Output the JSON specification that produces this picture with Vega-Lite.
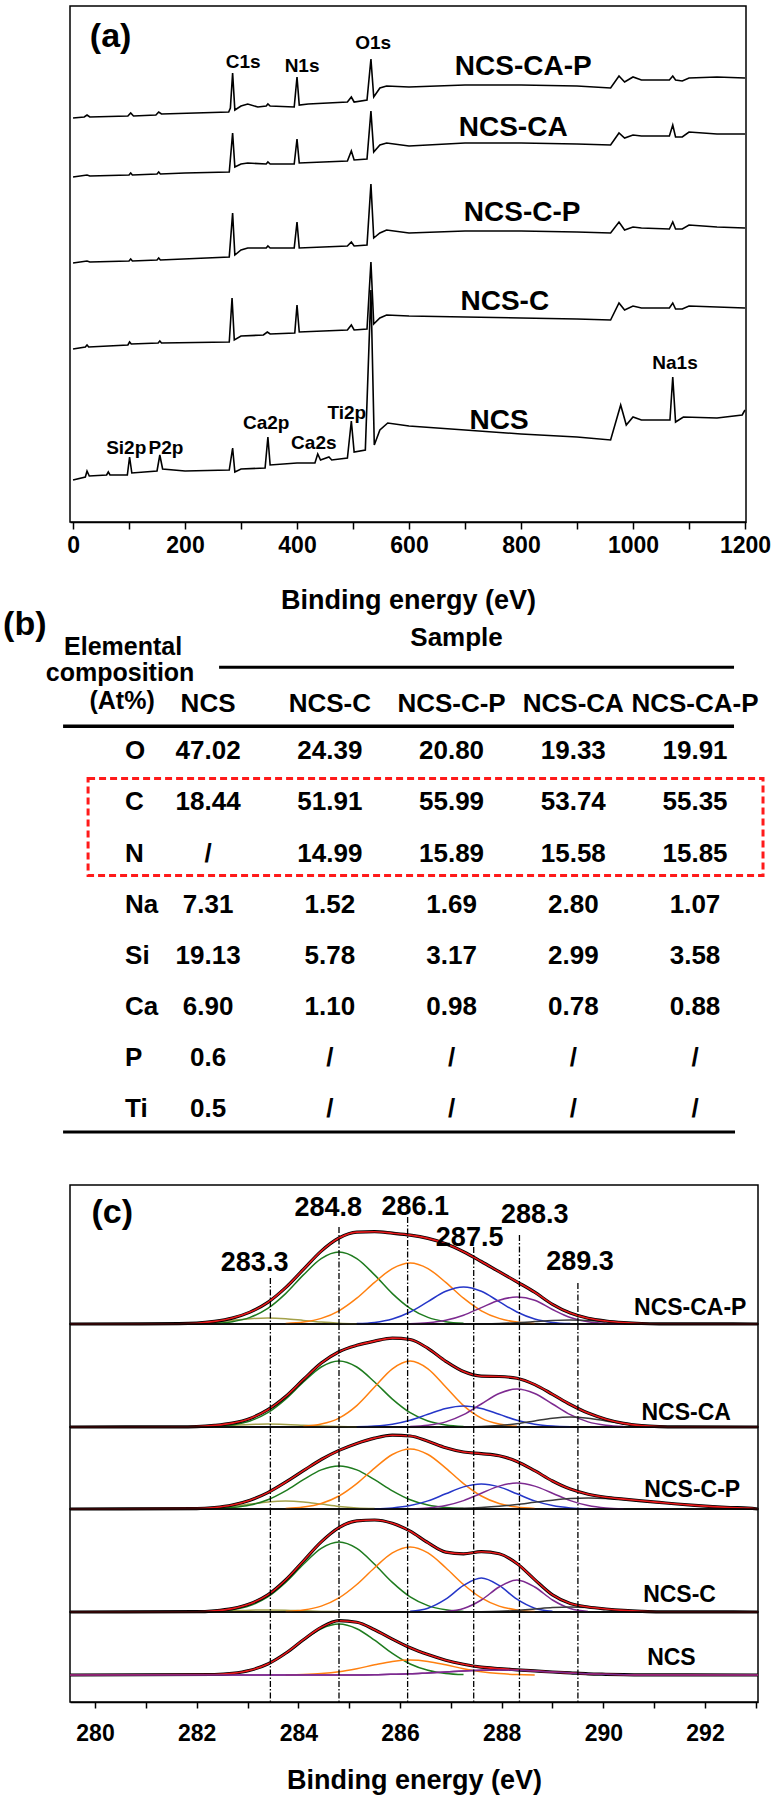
{
"$schema": "https://vega.github.io/schema/vega-lite/v6.json",
"background": "white",
"padding": {"left": 3, "top": 5, "right": 0, "bottom": 2},
"bounds": "flush",
"spacing": 76,
"datasets": {
"survey": [
{"s":"CAP","e":0,"v":404},{"s":"CAP","e":20,"v":405},{"s":"CAP","e":25,"v":407},{"s":"CAP","e":30,"v":405},{"s":"CAP","e":98,"v":406},{"s":"CAP","e":103,"v":409},{"s":"CAP","e":108,"v":406},{"s":"CAP","e":148,"v":407},{"s":"CAP","e":153,"v":410},{"s":"CAP","e":158,"v":408},{"s":"CAP","e":278,"v":410},{"s":"CAP","e":281,"v":414},{"s":"CAP","e":285,"v":449},{"s":"CAP","e":289,"v":412},{"s":"CAP","e":300,"v":416},{"s":"CAP","e":312,"v":418},{"s":"CAP","e":330,"v":415},{"s":"CAP","e":345,"v":416},{"s":"CAP","e":348,"v":418},{"s":"CAP","e":352,"v":416},{"s":"CAP","e":395,"v":415},{"s":"CAP","e":400,"v":445},{"s":"CAP","e":404,"v":417},{"s":"CAP","e":420,"v":418},{"s":"CAP","e":490,"v":420},{"s":"CAP","e":497,"v":425},{"s":"CAP","e":502,"v":420},{"s":"CAP","e":525,"v":422},{"s":"CAP","e":532,"v":463},{"s":"CAP","e":537,"v":425},{"s":"CAP","e":548,"v":434},{"s":"CAP","e":560,"v":436},{"s":"CAP","e":600,"v":435},{"s":"CAP","e":700,"v":437},{"s":"CAP","e":800,"v":437},{"s":"CAP","e":900,"v":436},{"s":"CAP","e":960,"v":434},{"s":"CAP","e":975,"v":446},{"s":"CAP","e":985,"v":440},{"s":"CAP","e":1000,"v":445},{"s":"CAP","e":1015,"v":442},{"s":"CAP","e":1065,"v":442},{"s":"CAP","e":1071,"v":446},{"s":"CAP","e":1076,"v":442},{"s":"CAP","e":1088,"v":441},{"s":"CAP","e":1100,"v":444},{"s":"CAP","e":1150,"v":445},{"s":"CAP","e":1200,"v":444},
{"s":"CA","e":0,"v":345},{"s":"CA","e":25,"v":347},{"s":"CA","e":30,"v":346},{"s":"CA","e":100,"v":347},{"s":"CA","e":103,"v":349},{"s":"CA","e":106,"v":347},{"s":"CA","e":150,"v":348},{"s":"CA","e":153,"v":350},{"s":"CA","e":156,"v":348},{"s":"CA","e":200,"v":349},{"s":"CA","e":279,"v":350},{"s":"CA","e":285,"v":389},{"s":"CA","e":289,"v":355},{"s":"CA","e":300,"v":358},{"s":"CA","e":312,"v":359},{"s":"CA","e":345,"v":358},{"s":"CA","e":348,"v":360},{"s":"CA","e":352,"v":358},{"s":"CA","e":395,"v":358},{"s":"CA","e":400,"v":383},{"s":"CA","e":404,"v":359},{"s":"CA","e":490,"v":361},{"s":"CA","e":497,"v":371},{"s":"CA","e":502,"v":362},{"s":"CA","e":525,"v":363},{"s":"CA","e":532,"v":411},{"s":"CA","e":537,"v":370},{"s":"CA","e":548,"v":377},{"s":"CA","e":560,"v":379},{"s":"CA","e":600,"v":376},{"s":"CA","e":700,"v":379},{"s":"CA","e":800,"v":379},{"s":"CA","e":900,"v":378},{"s":"CA","e":960,"v":377},{"s":"CA","e":975,"v":389},{"s":"CA","e":985,"v":384},{"s":"CA","e":1000,"v":387},{"s":"CA","e":1015,"v":386},{"s":"CA","e":1065,"v":386},{"s":"CA","e":1071,"v":397},{"s":"CA","e":1076,"v":385},{"s":"CA","e":1088,"v":385},{"s":"CA","e":1100,"v":390},{"s":"CA","e":1150,"v":388},{"s":"CA","e":1200,"v":388},
{"s":"CP","e":0,"v":259},{"s":"CP","e":25,"v":261},{"s":"CP","e":30,"v":260},{"s":"CP","e":100,"v":261},{"s":"CP","e":103,"v":263},{"s":"CP","e":106,"v":261},{"s":"CP","e":150,"v":262},{"s":"CP","e":153,"v":264},{"s":"CP","e":156,"v":262},{"s":"CP","e":279,"v":265},{"s":"CP","e":285,"v":309},{"s":"CP","e":289,"v":267},{"s":"CP","e":300,"v":272},{"s":"CP","e":312,"v":274},{"s":"CP","e":345,"v":274},{"s":"CP","e":348,"v":276},{"s":"CP","e":352,"v":274},{"s":"CP","e":395,"v":274},{"s":"CP","e":400,"v":300},{"s":"CP","e":404,"v":274},{"s":"CP","e":490,"v":276},{"s":"CP","e":497,"v":280},{"s":"CP","e":502,"v":276},{"s":"CP","e":525,"v":277},{"s":"CP","e":532,"v":338},{"s":"CP","e":537,"v":284},{"s":"CP","e":548,"v":289},{"s":"CP","e":560,"v":292},{"s":"CP","e":600,"v":289},{"s":"CP","e":700,"v":291},{"s":"CP","e":800,"v":291},{"s":"CP","e":900,"v":290},{"s":"CP","e":960,"v":289},{"s":"CP","e":975,"v":300},{"s":"CP","e":985,"v":292},{"s":"CP","e":1000,"v":295},{"s":"CP","e":1015,"v":294},{"s":"CP","e":1065,"v":293},{"s":"CP","e":1071,"v":300},{"s":"CP","e":1076,"v":293},{"s":"CP","e":1088,"v":293},{"s":"CP","e":1100,"v":297},{"s":"CP","e":1150,"v":295},{"s":"CP","e":1200,"v":294},
{"s":"C","e":0,"v":173},{"s":"C","e":22,"v":175},{"s":"C","e":25,"v":177},{"s":"C","e":28,"v":175},{"s":"C","e":98,"v":177},{"s":"C","e":101,"v":180},{"s":"C","e":104,"v":178},{"s":"C","e":152,"v":179},{"s":"C","e":155,"v":181},{"s":"C","e":158,"v":179},{"s":"C","e":279,"v":180},{"s":"C","e":284,"v":224},{"s":"C","e":288,"v":182},{"s":"C","e":300,"v":186},{"s":"C","e":340,"v":187},{"s":"C","e":347,"v":190},{"s":"C","e":352,"v":188},{"s":"C","e":396,"v":189},{"s":"C","e":400,"v":217},{"s":"C","e":404,"v":190},{"s":"C","e":490,"v":192},{"s":"C","e":497,"v":197},{"s":"C","e":502,"v":192},{"s":"C","e":525,"v":193},{"s":"C","e":532,"v":260},{"s":"C","e":537,"v":198},{"s":"C","e":548,"v":204},{"s":"C","e":560,"v":207},{"s":"C","e":600,"v":206},{"s":"C","e":700,"v":205},{"s":"C","e":800,"v":204},{"s":"C","e":900,"v":203},{"s":"C","e":960,"v":202},{"s":"C","e":975,"v":219},{"s":"C","e":985,"v":212},{"s":"C","e":1000,"v":216},{"s":"C","e":1015,"v":214},{"s":"C","e":1065,"v":214},{"s":"C","e":1071,"v":219},{"s":"C","e":1076,"v":213},{"s":"C","e":1088,"v":213},{"s":"C","e":1100,"v":216},{"s":"C","e":1150,"v":215},{"s":"C","e":1200,"v":214},
{"s":"NCS","e":0,"v":42},{"s":"NCS","e":22,"v":45},{"s":"NCS","e":25,"v":51},{"s":"NCS","e":29,"v":46},{"s":"NCS","e":60,"v":47},{"s":"NCS","e":63,"v":50},{"s":"NCS","e":66,"v":47},{"s":"NCS","e":97,"v":47},{"s":"NCS","e":101,"v":65},{"s":"NCS","e":105,"v":49},{"s":"NCS","e":150,"v":51},{"s":"NCS","e":155,"v":67},{"s":"NCS","e":160,"v":53},{"s":"NCS","e":200,"v":51},{"s":"NCS","e":279,"v":52},{"s":"NCS","e":285,"v":74},{"s":"NCS","e":289,"v":50},{"s":"NCS","e":300,"v":53},{"s":"NCS","e":343,"v":54},{"s":"NCS","e":348,"v":85},{"s":"NCS","e":352,"v":57},{"s":"NCS","e":400,"v":59},{"s":"NCS","e":432,"v":59},{"s":"NCS","e":437,"v":68},{"s":"NCS","e":442,"v":62},{"s":"NCS","e":457,"v":65},{"s":"NCS","e":462,"v":62},{"s":"NCS","e":490,"v":64},{"s":"NCS","e":497,"v":101},{"s":"NCS","e":502,"v":70},{"s":"NCS","e":522,"v":72},{"s":"NCS","e":532,"v":232},{"s":"NCS","e":538,"v":77},{"s":"NCS","e":548,"v":92},{"s":"NCS","e":562,"v":99},{"s":"NCS","e":600,"v":96},{"s":"NCS","e":700,"v":92},{"s":"NCS","e":800,"v":88},{"s":"NCS","e":900,"v":85},{"s":"NCS","e":960,"v":82},{"s":"NCS","e":978,"v":117},{"s":"NCS","e":988,"v":97},{"s":"NCS","e":1000,"v":105},{"s":"NCS","e":1015,"v":102},{"s":"NCS","e":1066,"v":102},{"s":"NCS","e":1071,"v":145},{"s":"NCS","e":1076,"v":100},{"s":"NCS","e":1090,"v":105},{"s":"NCS","e":1150,"v":104},{"s":"NCS","e":1195,"v":107},{"s":"NCS","e":1200,"v":112}
],
"alab": [
{"t":"(a)","k":"a","e":30,"v":485},
{"t":"C1s","k":"p","e":304,"v":460},{"t":"N1s","k":"p","e":409,"v":456},{"t":"O1s","k":"p","e":536,"v":479},
{"t":"Na1s","k":"p","e":1075,"v":159},{"t":"Si2p","k":"p","e":95,"v":74},{"t":"P2p","k":"p","e":166,"v":74},{"t":"Ca2p","k":"p","e":345,"v":99},{"t":"Ca2s","k":"p","e":430,"v":79},{"t":"Ti2p","k":"p","e":489,"v":109},
{"t":"NCS-CA-P","k":"s","e":804,"v":455},{"t":"NCS-CA","k":"s","e":786,"v":394},{"t":"NCS-C-P","k":"s","e":802,"v":309},{"t":"NCS-C","k":"s","e":771,"v":220},{"t":"NCS","k":"s","e":761,"v":101}
],
"tbl": [
{"r":"hdr","c":"NCS","t":"NCS"},{"r":"hdr","c":"NCS-C","t":"NCS-C"},{"r":"hdr","c":"NCS-C-P","t":"NCS-C-P"},{"r":"hdr","c":"NCS-CA","t":"NCS-CA"},{"r":"hdr","c":"NCS-CA-P","t":"NCS-CA-P"},
{"r":"O","c":"NCS","t":"47.02"},{"r":"O","c":"NCS-C","t":"24.39"},{"r":"O","c":"NCS-C-P","t":"20.80"},{"r":"O","c":"NCS-CA","t":"19.33"},{"r":"O","c":"NCS-CA-P","t":"19.91"},
{"r":"C","c":"NCS","t":"18.44"},{"r":"C","c":"NCS-C","t":"51.91"},{"r":"C","c":"NCS-C-P","t":"55.99"},{"r":"C","c":"NCS-CA","t":"53.74"},{"r":"C","c":"NCS-CA-P","t":"55.35"},
{"r":"N","c":"NCS","t":"/"},{"r":"N","c":"NCS-C","t":"14.99"},{"r":"N","c":"NCS-C-P","t":"15.89"},{"r":"N","c":"NCS-CA","t":"15.58"},{"r":"N","c":"NCS-CA-P","t":"15.85"},
{"r":"Na","c":"NCS","t":"7.31"},{"r":"Na","c":"NCS-C","t":"1.52"},{"r":"Na","c":"NCS-C-P","t":"1.69"},{"r":"Na","c":"NCS-CA","t":"2.80"},{"r":"Na","c":"NCS-CA-P","t":"1.07"},
{"r":"Si","c":"NCS","t":"19.13"},{"r":"Si","c":"NCS-C","t":"5.78"},{"r":"Si","c":"NCS-C-P","t":"3.17"},{"r":"Si","c":"NCS-CA","t":"2.99"},{"r":"Si","c":"NCS-CA-P","t":"3.58"},
{"r":"Ca","c":"NCS","t":"6.90"},{"r":"Ca","c":"NCS-C","t":"1.10"},{"r":"Ca","c":"NCS-C-P","t":"0.98"},{"r":"Ca","c":"NCS-CA","t":"0.78"},{"r":"Ca","c":"NCS-CA-P","t":"0.88"},
{"r":"P","c":"NCS","t":"0.6"},{"r":"P","c":"NCS-C","t":"/"},{"r":"P","c":"NCS-C-P","t":"/"},{"r":"P","c":"NCS-CA","t":"/"},{"r":"P","c":"NCS-CA-P","t":"/"},
{"r":"Ti","c":"NCS","t":"0.5"},{"r":"Ti","c":"NCS-C","t":"/"},{"r":"Ti","c":"NCS-C-P","t":"/"},{"r":"Ti","c":"NCS-CA","t":"/"},{"r":"Ti","c":"NCS-CA-P","t":"/"}
],
"vl": [
{"e":283.45,"top":46},{"e":284.8,"top":97},{"e":286.15,"top":107},{"e":287.45,"top":77},{"e":288.35,"top":89},{"e":289.5,"top":41}
],
"pl": [
{"t":"283.3","e":283.14,"v":61},{"t":"284.8","e":284.59,"v":116},{"t":"286.1","e":286.3,"v":117},{"t":"287.5","e":287.37,"v":86},{"t":"288.3","e":288.65,"v":109},{"t":"289.3","e":289.54,"v":62}
],
"comp": [
{"s":"CAP","c":"C0","e":279.51,"v":0},{"s":"CAP","c":"C0","e":293.04,"v":0},
{"s":"CAP","c":"C1","e":281.65,"v":0.3},{"s":"CAP","c":"C1","e":282.0,"v":0.8},{"s":"CAP","c":"C1","e":282.35,"v":1.9},{"s":"CAP","c":"C1","e":282.7,"v":3.6},{"s":"CAP","c":"C1","e":283.05,"v":5.3},{"s":"CAP","c":"C1","e":283.4,"v":6},{"s":"CAP","c":"C1","e":283.75,"v":5.3},{"s":"CAP","c":"C1","e":284.1,"v":3.6},{"s":"CAP","c":"C1","e":284.45,"v":1.9},{"s":"CAP","c":"C1","e":284.8,"v":0.8},{"s":"CAP","c":"C1","e":285.15,"v":0.3},
{"s":"CAP","c":"C2","e":282.35,"v":0.7},{"s":"CAP","c":"C2","e":282.7,"v":2.3},{"s":"CAP","c":"C2","e":283.05,"v":6.6},{"s":"CAP","c":"C2","e":283.4,"v":15.6},{"s":"CAP","c":"C2","e":283.75,"v":30.4},{"s":"CAP","c":"C2","e":284.1,"v":49.1},{"s":"CAP","c":"C2","e":284.45,"v":65.4},{"s":"CAP","c":"C2","e":284.8,"v":72},{"s":"CAP","c":"C2","e":285.15,"v":65.4},{"s":"CAP","c":"C2","e":285.5,"v":49.1},{"s":"CAP","c":"C2","e":285.85,"v":30.4},{"s":"CAP","c":"C2","e":286.2,"v":15.6},{"s":"CAP","c":"C2","e":286.55,"v":6.6},{"s":"CAP","c":"C2","e":286.9,"v":2.3},{"s":"CAP","c":"C2","e":287.25,"v":0.7},
{"s":"CAP","c":"C3","e":283.75,"v":0.6},{"s":"CAP","c":"C3","e":284.1,"v":1.9},{"s":"CAP","c":"C3","e":284.45,"v":5.6},{"s":"CAP","c":"C3","e":284.8,"v":13.2},{"s":"CAP","c":"C3","e":285.15,"v":25.8},{"s":"CAP","c":"C3","e":285.5,"v":41.6},{"s":"CAP","c":"C3","e":285.85,"v":55.4},{"s":"CAP","c":"C3","e":286.2,"v":61},{"s":"CAP","c":"C3","e":286.55,"v":55.4},{"s":"CAP","c":"C3","e":286.9,"v":41.6},{"s":"CAP","c":"C3","e":287.25,"v":25.8},{"s":"CAP","c":"C3","e":287.6,"v":13.2},{"s":"CAP","c":"C3","e":287.95,"v":5.6},{"s":"CAP","c":"C3","e":288.3,"v":1.9},{"s":"CAP","c":"C3","e":288.65,"v":0.6},
{"s":"CAP","c":"C4","e":285.15,"v":0.4},{"s":"CAP","c":"C4","e":285.5,"v":1.6},{"s":"CAP","c":"C4","e":285.85,"v":5.0},{"s":"CAP","c":"C4","e":286.2,"v":12.0},{"s":"CAP","c":"C4","e":286.55,"v":22.4},{"s":"CAP","c":"C4","e":286.9,"v":32.7},{"s":"CAP","c":"C4","e":287.25,"v":37},{"s":"CAP","c":"C4","e":287.6,"v":32.7},{"s":"CAP","c":"C4","e":287.95,"v":22.4},{"s":"CAP","c":"C4","e":288.3,"v":12.0},{"s":"CAP","c":"C4","e":288.65,"v":5.0},{"s":"CAP","c":"C4","e":289.0,"v":1.6},{"s":"CAP","c":"C4","e":289.35,"v":0.4},
{"s":"CAP","c":"C5","e":286.2,"v":0.3},{"s":"CAP","c":"C5","e":286.55,"v":1.2},{"s":"CAP","c":"C5","e":286.9,"v":3.7},{"s":"CAP","c":"C5","e":287.25,"v":8.8},{"s":"CAP","c":"C5","e":287.6,"v":16.4},{"s":"CAP","c":"C5","e":287.95,"v":23.8},{"s":"CAP","c":"C5","e":288.3,"v":27},{"s":"CAP","c":"C5","e":288.65,"v":23.8},{"s":"CAP","c":"C5","e":289.0,"v":14.5},{"s":"CAP","c":"C5","e":289.35,"v":6.5},{"s":"CAP","c":"C5","e":289.7,"v":2.2},{"s":"CAP","c":"C5","e":290.05,"v":0.6},{"s":"CAP","c":"C5","e":290.4,"v":0.1},
{"s":"CAP","c":"C6","e":287.6,"v":0.2},{"s":"CAP","c":"C6","e":287.95,"v":0.5},{"s":"CAP","c":"C6","e":288.3,"v":1.3},{"s":"CAP","c":"C6","e":288.65,"v":2.4},{"s":"CAP","c":"C6","e":289.0,"v":3.5},{"s":"CAP","c":"C6","e":289.35,"v":4},{"s":"CAP","c":"C6","e":289.7,"v":3.5},{"s":"CAP","c":"C6","e":290.05,"v":2.4},{"s":"CAP","c":"C6","e":290.4,"v":1.3},{"s":"CAP","c":"C6","e":290.75,"v":0.5},{"s":"CAP","c":"C6","e":291.1,"v":0.2},
{"s":"CA","c":"C0","e":279.51,"v":0},{"s":"CA","c":"C0","e":293.04,"v":0},
{"s":"CA","c":"C1","e":281.65,"v":0.1},{"s":"CA","c":"C1","e":282.0,"v":0.4},{"s":"CA","c":"C1","e":282.35,"v":1.0},{"s":"CA","c":"C1","e":282.7,"v":1.8},{"s":"CA","c":"C1","e":283.05,"v":2.6},{"s":"CA","c":"C1","e":283.4,"v":3},{"s":"CA","c":"C1","e":283.75,"v":2.6},{"s":"CA","c":"C1","e":284.1,"v":1.8},{"s":"CA","c":"C1","e":284.45,"v":1.0},{"s":"CA","c":"C1","e":284.8,"v":0.4},{"s":"CA","c":"C1","e":285.15,"v":0.1},
{"s":"CA","c":"C2","e":282.35,"v":0.6},{"s":"CA","c":"C2","e":282.7,"v":2.1},{"s":"CA","c":"C2","e":283.05,"v":6.0},{"s":"CA","c":"C2","e":283.4,"v":14.3},{"s":"CA","c":"C2","e":283.75,"v":27.9},{"s":"CA","c":"C2","e":284.1,"v":45.0},{"s":"CA","c":"C2","e":284.45,"v":60.0},{"s":"CA","c":"C2","e":284.8,"v":66},{"s":"CA","c":"C2","e":285.15,"v":60.0},{"s":"CA","c":"C2","e":285.5,"v":45.0},{"s":"CA","c":"C2","e":285.85,"v":27.9},{"s":"CA","c":"C2","e":286.2,"v":14.3},{"s":"CA","c":"C2","e":286.55,"v":6.0},{"s":"CA","c":"C2","e":286.9,"v":2.1},{"s":"CA","c":"C2","e":287.25,"v":0.6},
{"s":"CA","c":"C3","e":284.1,"v":0.7},{"s":"CA","c":"C3","e":284.45,"v":2.9},{"s":"CA","c":"C3","e":284.8,"v":8.9},{"s":"CA","c":"C3","e":285.15,"v":21.4},{"s":"CA","c":"C3","e":285.5,"v":40.0},{"s":"CA","c":"C3","e":285.85,"v":58.2},{"s":"CA","c":"C3","e":286.2,"v":66},{"s":"CA","c":"C3","e":286.55,"v":58.2},{"s":"CA","c":"C3","e":286.9,"v":40.0},{"s":"CA","c":"C3","e":287.25,"v":21.4},{"s":"CA","c":"C3","e":287.6,"v":8.9},{"s":"CA","c":"C3","e":287.95,"v":2.9},{"s":"CA","c":"C3","e":288.3,"v":0.7},
{"s":"CA","c":"C4","e":285.15,"v":0.2},{"s":"CA","c":"C4","e":285.5,"v":0.9},{"s":"CA","c":"C4","e":285.85,"v":2.8},{"s":"CA","c":"C4","e":286.2,"v":6.8},{"s":"CA","c":"C4","e":286.55,"v":12.7},{"s":"CA","c":"C4","e":286.9,"v":18.5},{"s":"CA","c":"C4","e":287.25,"v":21},{"s":"CA","c":"C4","e":287.6,"v":18.5},{"s":"CA","c":"C4","e":287.95,"v":12.7},{"s":"CA","c":"C4","e":288.3,"v":6.8},{"s":"CA","c":"C4","e":288.65,"v":2.8},{"s":"CA","c":"C4","e":289.0,"v":0.9},{"s":"CA","c":"C4","e":289.35,"v":0.2},
{"s":"CA","c":"C5","e":286.2,"v":0.4},{"s":"CA","c":"C5","e":286.55,"v":1.7},{"s":"CA","c":"C5","e":286.9,"v":5.1},{"s":"CA","c":"C5","e":287.25,"v":12.3},{"s":"CA","c":"C5","e":287.6,"v":23.0},{"s":"CA","c":"C5","e":287.95,"v":33.5},{"s":"CA","c":"C5","e":288.3,"v":38},{"s":"CA","c":"C5","e":288.65,"v":33.5},{"s":"CA","c":"C5","e":289.0,"v":23.0},{"s":"CA","c":"C5","e":289.35,"v":12.3},{"s":"CA","c":"C5","e":289.7,"v":5.1},{"s":"CA","c":"C5","e":290.05,"v":1.7},{"s":"CA","c":"C5","e":290.4,"v":0.4},
{"s":"CA","c":"C6","e":287.25,"v":0.1},{"s":"CA","c":"C6","e":287.6,"v":0.4},{"s":"CA","c":"C6","e":287.95,"v":1.4},{"s":"CA","c":"C6","e":288.3,"v":3.2},{"s":"CA","c":"C6","e":288.65,"v":6.1},{"s":"CA","c":"C6","e":289.0,"v":8.8},{"s":"CA","c":"C6","e":289.35,"v":10},{"s":"CA","c":"C6","e":289.7,"v":8.8},{"s":"CA","c":"C6","e":290.05,"v":6.1},{"s":"CA","c":"C6","e":290.4,"v":3.2},{"s":"CA","c":"C6","e":290.75,"v":1.4},{"s":"CA","c":"C6","e":291.1,"v":0.4},{"s":"CA","c":"C6","e":291.45,"v":0.1},
{"s":"CP","c":"C0","e":279.51,"v":0},{"s":"CP","c":"C0","e":293.04,"v":0},
{"s":"CP","c":"C1","e":282.0,"v":0.4},{"s":"CP","c":"C1","e":282.35,"v":1.1},{"s":"CP","c":"C1","e":282.7,"v":2.6},{"s":"CP","c":"C1","e":283.05,"v":4.9},{"s":"CP","c":"C1","e":283.4,"v":7.1},{"s":"CP","c":"C1","e":283.75,"v":8},{"s":"CP","c":"C1","e":284.1,"v":7.1},{"s":"CP","c":"C1","e":284.45,"v":4.9},{"s":"CP","c":"C1","e":284.8,"v":2.6},{"s":"CP","c":"C1","e":285.15,"v":1.1},{"s":"CP","c":"C1","e":285.5,"v":0.4},
{"s":"CP","c":"C2","e":282.35,"v":0.4},{"s":"CP","c":"C2","e":282.7,"v":1.4},{"s":"CP","c":"C2","e":283.05,"v":3.9},{"s":"CP","c":"C2","e":283.4,"v":9.3},{"s":"CP","c":"C2","e":283.75,"v":18.2},{"s":"CP","c":"C2","e":284.1,"v":29.3},{"s":"CP","c":"C2","e":284.45,"v":39.1},{"s":"CP","c":"C2","e":284.8,"v":43},{"s":"CP","c":"C2","e":285.15,"v":39.1},{"s":"CP","c":"C2","e":285.5,"v":29.3},{"s":"CP","c":"C2","e":285.85,"v":18.2},{"s":"CP","c":"C2","e":286.2,"v":9.3},{"s":"CP","c":"C2","e":286.55,"v":3.9},{"s":"CP","c":"C2","e":286.9,"v":1.4},{"s":"CP","c":"C2","e":287.25,"v":0.4},
{"s":"CP","c":"C3","e":283.75,"v":0.6},{"s":"CP","c":"C3","e":284.1,"v":1.9},{"s":"CP","c":"C3","e":284.45,"v":5.5},{"s":"CP","c":"C3","e":284.8,"v":13.0},{"s":"CP","c":"C3","e":285.15,"v":25.4},{"s":"CP","c":"C3","e":285.5,"v":40.9},{"s":"CP","c":"C3","e":285.85,"v":54.5},{"s":"CP","c":"C3","e":286.2,"v":60},{"s":"CP","c":"C3","e":286.55,"v":54.5},{"s":"CP","c":"C3","e":286.9,"v":40.9},{"s":"CP","c":"C3","e":287.25,"v":25.4},{"s":"CP","c":"C3","e":287.6,"v":13.0},{"s":"CP","c":"C3","e":287.95,"v":5.5},{"s":"CP","c":"C3","e":288.3,"v":1.9},{"s":"CP","c":"C3","e":288.65,"v":0.6},
{"s":"CP","c":"C4","e":285.5,"v":0.3},{"s":"CP","c":"C4","e":285.85,"v":1.1},{"s":"CP","c":"C4","e":286.2,"v":3.4},{"s":"CP","c":"C4","e":286.55,"v":8.1},{"s":"CP","c":"C4","e":286.9,"v":15.2},{"s":"CP","c":"C4","e":287.25,"v":22.1},{"s":"CP","c":"C4","e":287.6,"v":25},{"s":"CP","c":"C4","e":287.95,"v":22.1},{"s":"CP","c":"C4","e":288.3,"v":15.2},{"s":"CP","c":"C4","e":288.65,"v":8.1},{"s":"CP","c":"C4","e":289.0,"v":3.4},{"s":"CP","c":"C4","e":289.35,"v":1.1},{"s":"CP","c":"C4","e":289.7,"v":0.3},
{"s":"CP","c":"C5","e":286.2,"v":0.3},{"s":"CP","c":"C5","e":286.55,"v":1.1},{"s":"CP","c":"C5","e":286.9,"v":3.5},{"s":"CP","c":"C5","e":287.25,"v":8.4},{"s":"CP","c":"C5","e":287.6,"v":15.8},{"s":"CP","c":"C5","e":287.95,"v":22.9},{"s":"CP","c":"C5","e":288.3,"v":26},{"s":"CP","c":"C5","e":288.65,"v":22.9},{"s":"CP","c":"C5","e":289.0,"v":15.8},{"s":"CP","c":"C5","e":289.35,"v":8.4},{"s":"CP","c":"C5","e":289.7,"v":3.5},{"s":"CP","c":"C5","e":290.05,"v":1.1},{"s":"CP","c":"C5","e":290.4,"v":0.3},
{"s":"CP","c":"C6","e":286.55,"v":0.1},{"s":"CP","c":"C6","e":286.9,"v":0.3},{"s":"CP","c":"C6","e":287.25,"v":0.7},{"s":"CP","c":"C6","e":287.6,"v":1.5},{"s":"CP","c":"C6","e":287.95,"v":2.7},{"s":"CP","c":"C6","e":288.3,"v":4.5},{"s":"CP","c":"C6","e":288.65,"v":6.7},{"s":"CP","c":"C6","e":289.0,"v":8.8},{"s":"CP","c":"C6","e":289.35,"v":10.4},{"s":"CP","c":"C6","e":289.7,"v":11},{"s":"CP","c":"C6","e":290.05,"v":10.6},{"s":"CP","c":"C6","e":290.4,"v":9.6},{"s":"CP","c":"C6","e":290.75,"v":8.2},{"s":"CP","c":"C6","e":291.1,"v":6.6},{"s":"CP","c":"C6","e":291.45,"v":5.0},{"s":"CP","c":"C6","e":291.8,"v":3.6},{"s":"CP","c":"C6","e":292.15,"v":2.4},{"s":"CP","c":"C6","e":292.5,"v":1.5},{"s":"CP","c":"C6","e":292.85,"v":0.9},
{"s":"C","c":"C0","e":279.51,"v":0},{"s":"C","c":"C0","e":293.04,"v":0},
{"s":"C","c":"C1","e":282.0,"v":0.3},{"s":"C","c":"C1","e":282.35,"v":0.6},{"s":"C","c":"C1","e":282.7,"v":1.2},{"s":"C","c":"C1","e":283.05,"v":1.8},{"s":"C","c":"C1","e":283.4,"v":2},{"s":"C","c":"C1","e":283.75,"v":1.8},{"s":"C","c":"C1","e":284.1,"v":1.2},{"s":"C","c":"C1","e":284.45,"v":0.6},{"s":"C","c":"C1","e":284.8,"v":0.3},
{"s":"C","c":"C2","e":282.35,"v":0.6},{"s":"C","c":"C2","e":282.7,"v":2.2},{"s":"C","c":"C2","e":283.05,"v":6.4},{"s":"C","c":"C2","e":283.4,"v":15.1},{"s":"C","c":"C2","e":283.75,"v":29.6},{"s":"C","c":"C2","e":284.1,"v":47.7},{"s":"C","c":"C2","e":284.45,"v":63.6},{"s":"C","c":"C2","e":284.8,"v":70},{"s":"C","c":"C2","e":285.15,"v":63.6},{"s":"C","c":"C2","e":285.5,"v":47.7},{"s":"C","c":"C2","e":285.85,"v":29.6},{"s":"C","c":"C2","e":286.2,"v":15.1},{"s":"C","c":"C2","e":286.55,"v":6.4},{"s":"C","c":"C2","e":286.9,"v":2.2},{"s":"C","c":"C2","e":287.25,"v":0.6},
{"s":"C","c":"C3","e":283.75,"v":0.6},{"s":"C","c":"C3","e":284.1,"v":2.1},{"s":"C","c":"C3","e":284.45,"v":5.9},{"s":"C","c":"C3","e":284.8,"v":14.1},{"s":"C","c":"C3","e":285.15,"v":27.5},{"s":"C","c":"C3","e":285.5,"v":44.3},{"s":"C","c":"C3","e":285.85,"v":59.1},{"s":"C","c":"C3","e":286.2,"v":65},{"s":"C","c":"C3","e":286.55,"v":59.1},{"s":"C","c":"C3","e":286.9,"v":44.3},{"s":"C","c":"C3","e":287.25,"v":27.5},{"s":"C","c":"C3","e":287.6,"v":14.1},{"s":"C","c":"C3","e":287.95,"v":5.9},{"s":"C","c":"C3","e":288.3,"v":2.1},{"s":"C","c":"C3","e":288.65,"v":0.6},
{"s":"C","c":"C4","e":286.2,"v":0.7},{"s":"C","c":"C4","e":286.55,"v":3.8},{"s":"C","c":"C4","e":286.9,"v":12.8},{"s":"C","c":"C4","e":287.25,"v":26.6},{"s":"C","c":"C4","e":287.6,"v":34},{"s":"C","c":"C4","e":287.95,"v":26.6},{"s":"C","c":"C4","e":288.3,"v":12.8},{"s":"C","c":"C4","e":288.65,"v":3.8},{"s":"C","c":"C4","e":289.0,"v":0.7},
{"s":"C","c":"C5","e":286.9,"v":0.6},{"s":"C","c":"C5","e":287.25,"v":3.5},{"s":"C","c":"C5","e":287.6,"v":12.0},{"s":"C","c":"C5","e":287.95,"v":25.0},{"s":"C","c":"C5","e":288.3,"v":32},{"s":"C","c":"C5","e":288.65,"v":25.0},{"s":"C","c":"C5","e":289.0,"v":12.0},{"s":"C","c":"C5","e":289.35,"v":3.5},{"s":"C","c":"C5","e":289.7,"v":0.6},
{"s":"C","c":"C6","e":287.6,"v":0.2},{"s":"C","c":"C6","e":287.95,"v":0.7},{"s":"C","c":"C6","e":288.3,"v":1.6},{"s":"C","c":"C6","e":288.65,"v":3.0},{"s":"C","c":"C6","e":289.0,"v":4.4},{"s":"C","c":"C6","e":289.35,"v":5},{"s":"C","c":"C6","e":289.7,"v":4.4},{"s":"C","c":"C6","e":290.05,"v":3.0},{"s":"C","c":"C6","e":290.4,"v":1.6},{"s":"C","c":"C6","e":290.75,"v":0.7},{"s":"C","c":"C6","e":291.1,"v":0.2},
{"s":"NCS","c":"C0","e":279.51,"v":0},{"s":"NCS","c":"C0","e":293.04,"v":0},
{"s":"NCS","c":"C2","e":282.35,"v":0.5},{"s":"NCS","c":"C2","e":282.7,"v":1.6},{"s":"NCS","c":"C2","e":283.05,"v":4.7},{"s":"NCS","c":"C2","e":283.4,"v":11.0},{"s":"NCS","c":"C2","e":283.75,"v":21.6},{"s":"NCS","c":"C2","e":284.1,"v":34.8},{"s":"NCS","c":"C2","e":284.45,"v":46.3},{"s":"NCS","c":"C2","e":284.8,"v":51},{"s":"NCS","c":"C2","e":285.15,"v":46.3},{"s":"NCS","c":"C2","e":285.5,"v":34.8},{"s":"NCS","c":"C2","e":285.85,"v":21.6},{"s":"NCS","c":"C2","e":286.2,"v":11.0},{"s":"NCS","c":"C2","e":286.55,"v":4.7},{"s":"NCS","c":"C2","e":286.9,"v":1.6},{"s":"NCS","c":"C2","e":287.25,"v":0.5},
{"s":"NCS","c":"C3","e":283.75,"v":0.1},{"s":"NCS","c":"C3","e":284.1,"v":0.5},{"s":"NCS","c":"C3","e":284.45,"v":1.4},{"s":"NCS","c":"C3","e":284.8,"v":3.2},{"s":"NCS","c":"C3","e":285.15,"v":6.3},{"s":"NCS","c":"C3","e":285.5,"v":10.2},{"s":"NCS","c":"C3","e":285.85,"v":13.6},{"s":"NCS","c":"C3","e":286.2,"v":15},{"s":"NCS","c":"C3","e":286.55,"v":13.6},{"s":"NCS","c":"C3","e":286.9,"v":10.2},{"s":"NCS","c":"C3","e":287.25,"v":6.3},{"s":"NCS","c":"C3","e":287.6,"v":3.2},{"s":"NCS","c":"C3","e":287.95,"v":1.4},{"s":"NCS","c":"C3","e":288.3,"v":0.5},{"s":"NCS","c":"C3","e":288.65,"v":0.1},
{"s":"NCS","c":"C5","e":279.51,"v":0},{"s":"NCS","c":"C5","e":284.8,"v":0.1},{"s":"NCS","c":"C5","e":285.15,"v":0.1},{"s":"NCS","c":"C5","e":285.5,"v":0.3},{"s":"NCS","c":"C5","e":285.85,"v":0.7},{"s":"NCS","c":"C5","e":286.2,"v":1.2},{"s":"NCS","c":"C5","e":286.55,"v":2.1},{"s":"NCS","c":"C5","e":286.9,"v":3.0},{"s":"NCS","c":"C5","e":287.25,"v":4.0},{"s":"NCS","c":"C5","e":287.6,"v":4.7},{"s":"NCS","c":"C5","e":287.95,"v":5},{"s":"NCS","c":"C5","e":288.3,"v":4.7},{"s":"NCS","c":"C5","e":288.65,"v":4.0},{"s":"NCS","c":"C5","e":289.0,"v":3.0},{"s":"NCS","c":"C5","e":289.35,"v":2.1},{"s":"NCS","c":"C5","e":289.7,"v":1.2},{"s":"NCS","c":"C5","e":290.05,"v":0.7},{"s":"NCS","c":"C5","e":290.4,"v":0.3},{"s":"NCS","c":"C5","e":290.75,"v":0.1},{"s":"NCS","c":"C5","e":291.1,"v":0.1},{"s":"NCS","c":"C5","e":293.04,"v":0}
]
},
"vconcat": [
{
"width": 676, "height": 516,
"layer": [
{"data": {"name": "survey"}, "mark": {"type": "line", "color": "black", "strokeWidth": 1.6},
 "encoding": {
  "x": {"field": "e", "type": "quantitative", "scale": {"domain": [-5.4, 1201.8], "nice": false, "zero": false},
   "axis": {"title": "Binding energy (eV)", "values": [0,100,200,300,400,500,600,700,800,900,1000,1100,1200], "format": "d", "labelExpr": "datum.value % 200 === 0 ? datum.label : ''", "tickSize": 7, "tickWidth": 1.5, "domainWidth": 1.5, "labelFontSize": 23, "titleFontSize": 27, "labelPadding": 5, "titlePadding": 30, "labelFlush": false}},
  "y": {"field": "v", "type": "quantitative", "scale": {"domain": [0, 516], "nice": false, "zero": false}, "axis": null},
  "detail": {"field": "s"}}},
{"data": {"name": "alab"}, "transform": [{"filter": {"field": "k", "equal": "p"}}], "mark": {"type": "text", "fontSize": 19},
 "encoding": {"x": {"field": "e", "type": "quantitative"}, "y": {"field": "v", "type": "quantitative"}, "text": {"field": "t"}}},
{"data": {"name": "alab"}, "transform": [{"filter": {"field": "k", "equal": "s"}}], "mark": {"type": "text", "fontSize": 28},
 "encoding": {"x": {"field": "e", "type": "quantitative"}, "y": {"field": "v", "type": "quantitative"}, "text": {"field": "t"}}},
{"data": {"name": "alab"}, "transform": [{"filter": {"field": "k", "equal": "a"}}], "mark": {"type": "text", "fontSize": 34, "align": "left"},
 "encoding": {"x": {"field": "e", "type": "quantitative"}, "y": {"field": "v", "type": "quantitative"}, "text": {"field": "t"}}}
]
},
{
"width": 690, "height": 511,
"view": {"stroke": null},
"layer": [
{"data": {"name": "tbl"}, "transform": [{"filter": "datum.r !== 'hdr'"}], "mark": {"type": "text", "fontSize": 26},
 "encoding": {
  "x": {"field": "c", "type": "nominal", "scale": {"type": "point", "domain": ["NCS","NCS-C","NCS-C-P","NCS-CA","NCS-CA-P"], "padding": 0.834, "align": 0.68}, "axis": null},
  "y": {"field": "r", "type": "nominal", "scale": {"type": "point", "domain": ["hdr","O","C","N","Na","Si","Ca","P","Ti"], "padding": 1, "align": 1}, "axis": null},
  "text": {"field": "t"}}},
{"data": {"name": "tbl"}, "transform": [{"filter": "datum.r === 'hdr'"}], "mark": {"type": "text", "fontSize": 26, "dy": 4},
 "encoding": {"x": {"field": "c", "type": "nominal"}, "y": {"field": "r", "type": "nominal"}, "text": {"field": "t"}}},
{"data": {"name": "tbl"}, "transform": [{"filter": "datum.c === 'NCS' && datum.r !== 'hdr'"}], "mark": {"type": "text", "fontSize": 26, "align": "left", "dx": -83},
 "encoding": {"x": {"field": "c", "type": "nominal"}, "y": {"field": "r", "type": "nominal"}, "text": {"field": "r"}}},
{"data": {"values": [{"t": "(b)"}]}, "mark": {"type": "text", "fontSize": 34, "align": "left", "dx": -205, "dy": -75},
 "encoding": {"x": {"datum": "NCS", "type": "nominal"}, "y": {"datum": "hdr", "type": "nominal"}, "text": {"field": "t"}}},
{"data": {"values": [{"t": "Sample"}]}, "mark": {"type": "text", "fontSize": 26, "dx": 5, "dy": -62},
 "encoding": {"x": {"datum": "NCS-C-P", "type": "nominal"}, "y": {"datum": "hdr", "type": "nominal"}, "text": {"field": "t"}}},
{"data": {"values": [{"t": "Elemental"}]}, "mark": {"type": "text", "fontSize": 25, "dx": -85, "dy": -53},
 "encoding": {"x": {"datum": "NCS", "type": "nominal"}, "y": {"datum": "hdr", "type": "nominal"}, "text": {"field": "t"}}},
{"data": {"values": [{"t": "composition"}]}, "mark": {"type": "text", "fontSize": 25, "dx": -88, "dy": -27},
 "encoding": {"x": {"datum": "NCS", "type": "nominal"}, "y": {"datum": "hdr", "type": "nominal"}, "text": {"field": "t"}}},
{"data": {"values": [{"t": "(At%)"}]}, "mark": {"type": "text", "fontSize": 25, "dx": -86, "dy": 1},
 "encoding": {"x": {"datum": "NCS", "type": "nominal"}, "y": {"datum": "hdr", "type": "nominal"}, "text": {"field": "t"}}},
{"data": {"values": [{}]}, "mark": {"type": "rule", "color": "black", "strokeWidth": 3, "xOffset": 11, "x2Offset": 39, "yOffset": -33},
 "encoding": {"x": {"datum": "NCS", "type": "nominal"}, "x2": {"datum": "NCS-CA-P"}, "y": {"datum": "hdr", "type": "nominal"}}},
{"data": {"values": [{}]}, "mark": {"type": "rule", "color": "black", "strokeWidth": 3.5, "xOffset": -145, "x2Offset": 39, "yOffset": 26},
 "encoding": {"x": {"datum": "NCS", "type": "nominal"}, "x2": {"datum": "NCS-CA-P"}, "y": {"datum": "hdr", "type": "nominal"}}},
{"data": {"values": [{}]}, "mark": {"type": "rule", "color": "black", "strokeWidth": 3, "xOffset": -145, "x2Offset": 40, "yOffset": 23},
 "encoding": {"x": {"datum": "NCS", "type": "nominal"}, "x2": {"datum": "NCS-CA-P"}, "y": {"datum": "Ti", "type": "nominal"}}},
{"data": {"values": [{}]}, "mark": {"type": "rect", "fill": null, "fillOpacity": 0, "stroke": "#ff1a1a", "strokeWidth": 3, "strokeDash": [7, 4], "xOffset": -120, "x2Offset": 68, "yOffset": -24, "y2Offset": 22},
 "encoding": {"x": {"datum": "NCS", "type": "nominal"}, "x2": {"datum": "NCS-CA-P"}, "y": {"datum": "C", "type": "nominal"}, "y2": {"datum": "N"}}}
]
},
{
"spacing": 0,
"bounds": "flush",
"vconcat": [
{
"width": 688, "height": 139,
"layer": [
{"data": {"name": "comp"}, "transform": [{"filter": {"field": "s", "equal": "CAP"}}, {"filter": "datum.c !== 'C0'"}], "mark": {"type": "line", "interpolate": "monotone", "strokeWidth": 1.5},
 "encoding": {"x": {"field": "e", "type": "quantitative", "scale": {"domain": [279.508, 293.043], "nice": false, "zero": false}, "axis": null},
  "y": {"field": "v", "type": "quantitative", "scale": {"domain": [0, 139], "nice": false}, "axis": null},
  "color": {"field": "c", "type": "nominal", "scale": {"domain": ["C1","C2","C3","C4","C5","C6"], "range": ["#a3a14a","#1e7b1e","#ff8010","#2536c8","#7d2a90","#3a3a3a"]}, "legend": null}}},
{"data": {"name": "comp"}, "transform": [{"filter": {"field": "s", "equal": "CAP"}}, {"aggregate": [{"op": "sum", "field": "v", "as": "v"}], "groupby": ["e"]}], "mark": {"type": "line", "interpolate": "monotone", "color": "black", "strokeWidth": 3.2},
 "encoding": {"x": {"field": "e", "type": "quantitative"}, "y": {"field": "v", "type": "quantitative"}}},
{"data": {"name": "comp"}, "transform": [{"filter": {"field": "s", "equal": "CAP"}}, {"aggregate": [{"op": "sum", "field": "v", "as": "v"}], "groupby": ["e"]}], "mark": {"type": "line", "interpolate": "monotone", "color": "#e8181a", "strokeWidth": 1.6},
 "encoding": {"x": {"field": "e", "type": "quantitative"}, "y": {"field": "v", "type": "quantitative"}}},
{"data": {"name": "vl"}, "mark": {"type": "rule", "color": "black", "strokeWidth": 1.3, "strokeDash": [6, 2, 1.5, 2]},
 "encoding": {"x": {"field": "e", "type": "quantitative"}, "y": {"field": "top", "type": "quantitative"}, "y2": {"datum": 0}}},
{"data": {"name": "pl"}, "mark": {"type": "text", "fontSize": 27},
 "encoding": {"x": {"field": "e", "type": "quantitative"}, "y": {"field": "v", "type": "quantitative"}, "text": {"field": "t"}}},
{"data": {"values": [{"t": "(c)", "e": 279.93, "v": 111}]}, "mark": {"type": "text", "fontSize": 34, "align": "left"},
 "encoding": {"x": {"field": "e", "type": "quantitative"}, "y": {"field": "v", "type": "quantitative"}, "text": {"field": "t"}}},
{"data": {"values": [{"t": "NCS-CA-P", "e": 291.71, "v": 16}]}, "mark": {"type": "text", "fontSize": 23},
 "encoding": {"x": {"field": "e", "type": "quantitative"}, "y": {"field": "v", "type": "quantitative"}, "text": {"field": "t"}}}
]
},
{
"width": 688, "height": 103,
"layer": [
{"data": {"name": "comp"}, "transform": [{"filter": {"field": "s", "equal": "CA"}}, {"filter": "datum.c !== 'C0'"}], "mark": {"type": "line", "interpolate": "monotone", "strokeWidth": 1.5},
 "encoding": {"x": {"field": "e", "type": "quantitative", "scale": {"domain": [279.508, 293.043], "nice": false, "zero": false}, "axis": null},
  "y": {"field": "v", "type": "quantitative", "scale": {"domain": [0, 103], "nice": false}, "axis": null},
  "color": {"field": "c", "type": "nominal", "scale": {"domain": ["C1","C2","C3","C4","C5","C6"], "range": ["#a3a14a","#1e7b1e","#ff8010","#2536c8","#7d2a90","#3a3a3a"]}, "legend": null}}},
{"data": {"name": "comp"}, "transform": [{"filter": {"field": "s", "equal": "CA"}}, {"aggregate": [{"op": "sum", "field": "v", "as": "v"}], "groupby": ["e"]}], "mark": {"type": "line", "interpolate": "monotone", "color": "black", "strokeWidth": 3.2},
 "encoding": {"x": {"field": "e", "type": "quantitative"}, "y": {"field": "v", "type": "quantitative"}}},
{"data": {"name": "comp"}, "transform": [{"filter": {"field": "s", "equal": "CA"}}, {"aggregate": [{"op": "sum", "field": "v", "as": "v"}], "groupby": ["e"]}], "mark": {"type": "line", "interpolate": "monotone", "color": "#e8181a", "strokeWidth": 1.6},
 "encoding": {"x": {"field": "e", "type": "quantitative"}, "y": {"field": "v", "type": "quantitative"}}},
{"data": {"name": "vl"}, "mark": {"type": "rule", "color": "black", "strokeWidth": 1.3, "strokeDash": [6, 2, 1.5, 2]},
 "encoding": {"x": {"field": "e", "type": "quantitative"}}},
{"data": {"values": [{"t": "NCS-CA", "e": 291.63, "v": 14}]}, "mark": {"type": "text", "fontSize": 23},
 "encoding": {"x": {"field": "e", "type": "quantitative"}, "y": {"field": "v", "type": "quantitative"}, "text": {"field": "t"}}}
]
},
{
"width": 688, "height": 82,
"layer": [
{"data": {"name": "comp"}, "transform": [{"filter": {"field": "s", "equal": "CP"}}, {"filter": "datum.c !== 'C0'"}], "mark": {"type": "line", "interpolate": "monotone", "strokeWidth": 1.5},
 "encoding": {"x": {"field": "e", "type": "quantitative", "scale": {"domain": [279.508, 293.043], "nice": false, "zero": false}, "axis": null},
  "y": {"field": "v", "type": "quantitative", "scale": {"domain": [0, 82], "nice": false}, "axis": null},
  "color": {"field": "c", "type": "nominal", "scale": {"domain": ["C1","C2","C3","C4","C5","C6"], "range": ["#a3a14a","#1e7b1e","#ff8010","#2536c8","#7d2a90","#3a3a3a"]}, "legend": null}}},
{"data": {"name": "comp"}, "transform": [{"filter": {"field": "s", "equal": "CP"}}, {"aggregate": [{"op": "sum", "field": "v", "as": "v"}], "groupby": ["e"]}], "mark": {"type": "line", "interpolate": "monotone", "color": "black", "strokeWidth": 3.2},
 "encoding": {"x": {"field": "e", "type": "quantitative"}, "y": {"field": "v", "type": "quantitative"}}},
{"data": {"name": "comp"}, "transform": [{"filter": {"field": "s", "equal": "CP"}}, {"aggregate": [{"op": "sum", "field": "v", "as": "v"}], "groupby": ["e"]}], "mark": {"type": "line", "interpolate": "monotone", "color": "#e8181a", "strokeWidth": 1.6},
 "encoding": {"x": {"field": "e", "type": "quantitative"}, "y": {"field": "v", "type": "quantitative"}}},
{"data": {"name": "vl"}, "mark": {"type": "rule", "color": "black", "strokeWidth": 1.3, "strokeDash": [6, 2, 1.5, 2]},
 "encoding": {"x": {"field": "e", "type": "quantitative"}}},
{"data": {"values": [{"t": "NCS-C-P", "e": 291.75, "v": 19}]}, "mark": {"type": "text", "fontSize": 23},
 "encoding": {"x": {"field": "e", "type": "quantitative"}, "y": {"field": "v", "type": "quantitative"}, "text": {"field": "t"}}}
]
},
{
"width": 688, "height": 103,
"layer": [
{"data": {"name": "comp"}, "transform": [{"filter": {"field": "s", "equal": "C"}}, {"filter": "datum.c !== 'C0'"}], "mark": {"type": "line", "interpolate": "monotone", "strokeWidth": 1.5},
 "encoding": {"x": {"field": "e", "type": "quantitative", "scale": {"domain": [279.508, 293.043], "nice": false, "zero": false}, "axis": null},
  "y": {"field": "v", "type": "quantitative", "scale": {"domain": [0, 103], "nice": false}, "axis": null},
  "color": {"field": "c", "type": "nominal", "scale": {"domain": ["C1","C2","C3","C4","C5","C6"], "range": ["#a3a14a","#1e7b1e","#ff8010","#2536c8","#7d2a90","#3a3a3a"]}, "legend": null}}},
{"data": {"name": "comp"}, "transform": [{"filter": {"field": "s", "equal": "C"}}, {"aggregate": [{"op": "sum", "field": "v", "as": "v"}], "groupby": ["e"]}], "mark": {"type": "line", "interpolate": "monotone", "color": "black", "strokeWidth": 3.2},
 "encoding": {"x": {"field": "e", "type": "quantitative"}, "y": {"field": "v", "type": "quantitative"}}},
{"data": {"name": "comp"}, "transform": [{"filter": {"field": "s", "equal": "C"}}, {"aggregate": [{"op": "sum", "field": "v", "as": "v"}], "groupby": ["e"]}], "mark": {"type": "line", "interpolate": "monotone", "color": "#e8181a", "strokeWidth": 1.6},
 "encoding": {"x": {"field": "e", "type": "quantitative"}, "y": {"field": "v", "type": "quantitative"}}},
{"data": {"name": "vl"}, "mark": {"type": "rule", "color": "black", "strokeWidth": 1.3, "strokeDash": [6, 2, 1.5, 2]},
 "encoding": {"x": {"field": "e", "type": "quantitative"}}},
{"data": {"values": [{"t": "NCS-C", "e": 291.5, "v": 17}]}, "mark": {"type": "text", "fontSize": 23},
 "encoding": {"x": {"field": "e", "type": "quantitative"}, "y": {"field": "v", "type": "quantitative"}, "text": {"field": "t"}}}
]
},
{
"width": 688, "height": 90,
"layer": [
{"data": {"name": "comp"}, "transform": [{"filter": {"field": "s", "equal": "NCS"}}, {"filter": "datum.c !== 'C0'"}], "mark": {"type": "line", "interpolate": "monotone", "strokeWidth": 1.5},
 "encoding": {"x": {"field": "e", "type": "quantitative", "scale": {"domain": [279.508, 293.043], "nice": false, "zero": false},
   "axis": {"title": "Binding energy (eV)", "values": [280,281,282,283,284,285,286,287,288,289,290,291,292,293], "format": "d", "labelExpr": "datum.value % 2 === 0 ? datum.label : ''", "tickSize": 6, "tickWidth": 1.5, "domainWidth": 1.5, "labelFontSize": 23, "titleFontSize": 27, "labelPadding": 14, "titlePadding": 22, "labelFlush": false}},
  "y": {"field": "v", "type": "quantitative", "scale": {"domain": [-27, 63], "nice": false, "zero": false}, "axis": null},
  "color": {"field": "c", "type": "nominal", "scale": {"domain": ["C1","C2","C3","C4","C5","C6"], "range": ["#a3a14a","#1e7b1e","#ff8010","#2536c8","#7d2a90","#3a3a3a"]}, "legend": null}}},
{"data": {"name": "comp"}, "transform": [{"filter": {"field": "s", "equal": "NCS"}}, {"aggregate": [{"op": "sum", "field": "v", "as": "v"}], "groupby": ["e"]}], "mark": {"type": "line", "interpolate": "monotone", "color": "black", "strokeWidth": 3.2},
 "encoding": {"x": {"field": "e", "type": "quantitative"}, "y": {"field": "v", "type": "quantitative"}}},
{"data": {"name": "comp"}, "transform": [{"filter": {"field": "s", "equal": "NCS"}}, {"aggregate": [{"op": "sum", "field": "v", "as": "v"}], "groupby": ["e"]}], "mark": {"type": "line", "interpolate": "monotone", "color": "#e8181a", "strokeWidth": 1.6},
 "encoding": {"x": {"field": "e", "type": "quantitative"}, "y": {"field": "v", "type": "quantitative"}}},
{"data": {"name": "comp"}, "transform": [{"filter": {"field": "s", "equal": "NCS"}}, {"filter": {"field": "c", "equal": "C5"}}], "mark": {"type": "line", "interpolate": "monotone", "color": "#7d2a90", "strokeWidth": 1.5},
 "encoding": {"x": {"field": "e", "type": "quantitative"}, "y": {"field": "v", "type": "quantitative"}}},
{"data": {"name": "vl"}, "mark": {"type": "rule", "color": "black", "strokeWidth": 1.3, "strokeDash": [6, 2, 1.5, 2]},
 "encoding": {"x": {"field": "e", "type": "quantitative"}}},
{"data": {"values": [{"t": "NCS", "e": 291.34, "v": 17}]}, "mark": {"type": "text", "fontSize": 23},
 "encoding": {"x": {"field": "e", "type": "quantitative"}, "y": {"field": "v", "type": "quantitative"}, "text": {"field": "t"}}}
]
}
]
}
],
"config": {
 "font": "Liberation Sans",
 "view": {"stroke": "black", "strokeWidth": 1.5},
 "axis": {"grid": false, "labelFont": "Liberation Sans", "titleFont": "Liberation Sans", "labelFontWeight": "bold", "titleFontWeight": "bold", "labelColor": "black", "titleColor": "black", "domainColor": "black", "tickColor": "black"},
 "text": {"font": "Liberation Sans", "fontWeight": "bold", "color": "black", "baseline": "middle"}
}
}
